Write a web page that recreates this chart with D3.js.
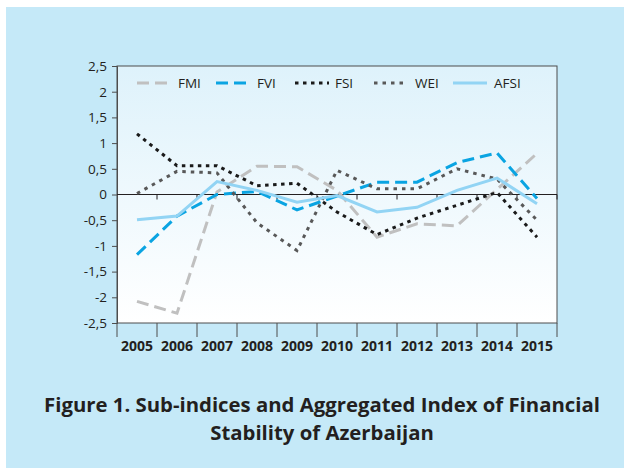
<!DOCTYPE html>
<html>
<head>
<meta charset="utf-8">
<script src="https://cdn.jsdelivr.net/npm/d3@7"></script>
<style>
  body { margin: 0; background: #fff; }
  svg { display: block; }
  .tick-lbl { font-family: "Open Sans", sans-serif; font-size: 13.5px; fill: #231f20; }
  .year-lbl { font-family: "Open Sans", sans-serif; font-size: 14px; font-weight: bold; fill: #231f20; }
  .title { font-family: "Open Sans", sans-serif; font-weight: bold; fill: #231f20; }
</style>
</head>
<body>
<div id="chart"></div>
<script>
// values
const years = ['2005', '2006', '2007', '2008', '2009', '2010', '2011', '2012', '2013', '2014', '2015'];
const fmi  = [-2.08, -2.31, 0.05, 0.55, 0.54, 0.08, -0.83, -0.57, -0.61, 0.10, 0.80];
const fvi  = [-1.17, -0.42, 0.00, 0.06, -0.30, -0.03, 0.24, 0.24, 0.62, 0.81, -0.08];
const fsi  = [1.18, 0.56, 0.56, 0.17, 0.22, -0.34, -0.78, -0.46, -0.21, 0.04, -0.83];
const wei  = [0.02, 0.45, 0.42, -0.55, -1.09, 0.47, 0.11, 0.11, 0.50, 0.30, -0.50];
const afsi = [-0.49, -0.42, 0.25, 0.08, -0.15, -0.02, -0.34, -0.25, 0.08, 0.32, -0.18];
const seriesNames = ['FMI', 'FVI', 'FSI', 'WEI', 'AFSI'];
const yTicks = [2.5, 2, 1.5, 1, 0.5, 0, -0.5, -1, -1.5, -2, -2.5];
const titleLines = ['Figure 1. Sub-indices and Aggregated Index of Financial', 'Stability of Azerbaijan'];

const series = [
    { name: 'FMI',  values: fmi,  color: '#c0c0c0', dash: '12,6' },
    { name: 'FVI',  values: fvi,  color: '#0aa4e2', dash: '12,6' },
    { name: 'FSI',  values: fsi,  color: '#1a1a1a', dash: '3.5,4.5' },
    { name: 'WEI',  values: wei,  color: '#585858', dash: '3.5,5' },
    { name: 'AFSI', values: afsi, color: '#92d4f4', dash: null }
];

const W = 624, H = 468;
const margin = { top: 66, right: 67, bottom: 145, left: 117 };
const width = W - margin.left - margin.right;
const height = H - margin.top - margin.bottom;

const root = d3.select('#chart').append('svg')
    .attr('width', W)
    .attr('height', H);

// light blue panel
root.append('rect')
    .attr('x', 6).attr('y', 7)
    .attr('width', W - 6).attr('height', H - 7)
    .attr('fill', '#c5e9f8');

const grad = root.append('defs').append('linearGradient')
    .attr('id', 'plotbg')
    .attr('x1', 0).attr('y1', 0).attr('x2', 0).attr('y2', 1);
grad.append('stop').attr('offset', '0%').attr('stop-color', '#def2fb');
grad.append('stop').attr('offset', '100%').attr('stop-color', '#ffffff');

const svg = root.append('g')
    .attr('transform', `translate(${margin.left},${margin.top})`);

// scales
const x = d3.scaleBand().domain(years).range([0, width]);
const y = d3.scaleLinear().domain([-2.5, 2.5]).range([height, 0]);

svg.append('rect')
    .attr('width', width)
    .attr('height', height)
    .attr('fill', 'url(#plotbg)')
    .attr('stroke', '#4d4d4d')
    .attr('stroke-width', 1);

// y axis
const yAxis = d3.axisLeft(y)
    .tickValues(yTicks)
    .tickSize(5)
    .tickPadding(5)
    .tickFormat(d => String(d).replace('.', ','));

svg.append('g')
    .call(yAxis)
    .call(g => g.select('.domain').attr('stroke', '#4d4d4d'))
    .call(g => g.selectAll('.tick line').attr('stroke', '#4d4d4d'))
    .call(g => g.selectAll('.tick text').attr('class', 'tick-lbl').attr('fill', null));

// category boundaries
const bounds = years.map(d => x(d)).concat([width]);

// bottom ticks below the plot frame
svg.append('g')
    .selectAll('line')
    .data(bounds)
    .join('line')
    .attr('x1', d => d).attr('x2', d => d)
    .attr('y1', height).attr('y2', height + 14)
    .attr('stroke', '#4d4d4d');

// year labels
svg.append('g')
    .selectAll('text')
    .data(years)
    .join('text')
    .attr('class', 'year-lbl')
    .attr('x', d => x(d) + x.bandwidth() / 2)
    .attr('y', height + 28)
    .attr('text-anchor', 'middle')
    .text(d => d);

// zero line with small ticks
svg.append('line')
    .attr('x1', 0).attr('x2', width)
    .attr('y1', y(0)).attr('y2', y(0))
    .attr('stroke', '#231f20')
    .attr('stroke-width', 1.2);

svg.append('g')
    .selectAll('line')
    .data(bounds.slice(1))
    .join('line')
    .attr('x1', d => d).attr('x2', d => d)
    .attr('y1', y(0)).attr('y2', y(0) + 5)
    .attr('stroke', '#231f20');

// lines
const line = d3.line()
    .x((d, i) => x(years[i]) + x.bandwidth() / 2)
    .y(d => y(d));

svg.append('g')
    .selectAll('path')
    .data(series)
    .join('path')
    .attr('d', d => line(d.values))
    .attr('fill', 'none')
    .attr('stroke', d => d.color)
    .attr('stroke-width', 3)
    .attr('stroke-dasharray', d => d.dash);

// legend
const legendX = d3.scalePoint().domain(seriesNames).range([20, 336]);
const legend = svg.append('g')
    .attr('transform', `translate(0, 17)`);

const item = legend.selectAll('g')
    .data(series)
    .join('g')
    .attr('transform', d => `translate(${legendX(d.name)},0)`);

item.append('line')
    .attr('x1', 0).attr('x2', 34)
    .attr('y1', 0).attr('y2', 0)
    .attr('stroke', d => d.color)
    .attr('stroke-width', 3)
    .attr('stroke-dasharray', d => d.dash);

item.append('text')
    .attr('class', 'tick-lbl')
    .attr('x', d => d.name === 'FSI' ? 40 : 41)
    .attr('y', 5)
    .text(d => d.name);

// title, sized to the reference width
const title = root.append('g');
const t1 = title.append('text')
    .attr('class', 'title')
    .attr('x', 322).attr('y', 412)
    .attr('text-anchor', 'middle')
    .style('font-size', '19px')
    .text(titleLines[0]);
const fs = 19 * 556 / t1.node().getComputedTextLength();
t1.style('font-size', fs + 'px');
title.append('text')
    .attr('class', 'title')
    .attr('x', 322).attr('y', 440)
    .attr('text-anchor', 'middle')
    .style('font-size', fs + 'px')
    .text(titleLines[1]);
</script>
</body>
</html>
